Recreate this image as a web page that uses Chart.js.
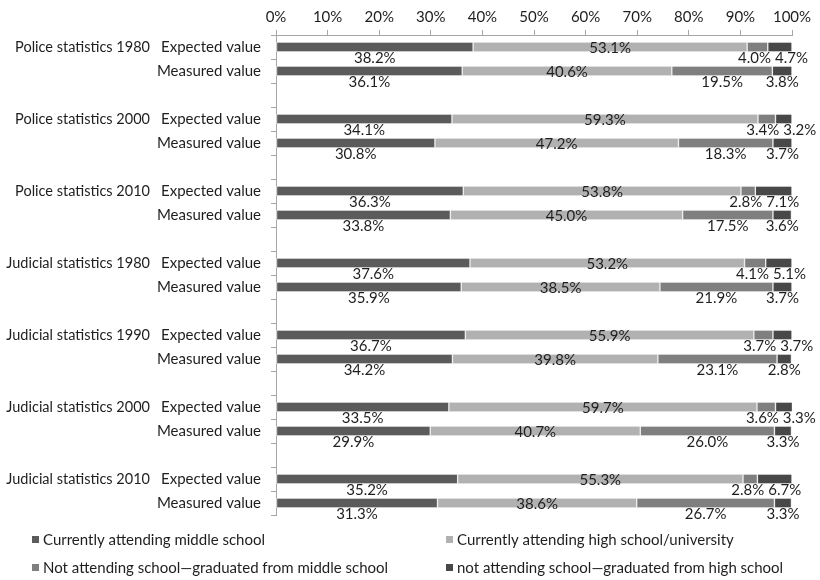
<!DOCTYPE html>
<html>
<head>
<meta charset="utf-8">
<script src="https://cdn.jsdelivr.net/npm/chart.js@4.4.1/dist/chart.umd.min.js"></script>
<style>
  html, body { margin: 0; padding: 0; background: #fff; }
  #wrap { width: 820px; height: 580px; }
</style>
</head>
<body>
<div id="wrap"><canvas id="myChart" width="820" height="580"></canvas></div>
<script>
// groups, each has an expected row and a measured row
const groups = [
  'Police statistics 1980', 'Police statistics 2000', 'Police statistics 2010',
  'Judicial statistics 1980', 'Judicial statistics 1990', 'Judicial statistics 2000',
  'Judicial statistics 2010'
];
const rowNames = ['Expected value', 'Measured value'];

// shares in %, order: expected, measured for each group
const middleSchool   = [38.2, 36.1, 34.1, 30.8, 36.3, 33.8, 37.6, 35.9, 36.7, 34.2, 33.5, 29.9, 35.2, 31.3];
const highSchoolUni  = [53.1, 40.6, 59.3, 47.2, 53.8, 45.0, 53.2, 38.5, 55.9, 39.8, 59.7, 40.7, 55.3, 38.6];
const gradMiddle     = [4.0, 19.5, 3.4, 18.3, 2.8, 17.5, 4.1, 21.9, 3.7, 23.1, 3.6, 26.0, 2.8, 26.7];
const gradHigh       = [4.7, 3.8, 3.2, 3.7, 7.1, 3.6, 5.1, 3.7, 3.7, 2.8, 3.3, 3.3, 6.7, 3.3];

const seriesNames = [
  'Currently attending middle school',
  'Currently attending high school/university',
  'Not attending school\u2014graduated from middle school',
  'not attending school\u2014graduated from high school'
];
const seriesColors = ['#5b5b5b', '#b1b1b1', '#7f7f7f', '#484848'];

const xTicks = [0, 10, 20, 30, 40, 50, 60, 70, 80, 90, 100];

const FONT = 'Lato, "Liberation Sans", sans-serif';
const SIZE = 15;
const TEXT = '#1e1e1e';

// blank row between groups
const labels = [];
groups.forEach((g, i) => {
  labels.push(rowNames[0], rowNames[1]);
  if (i < groups.length - 1) labels.push('');
});
const spread = arr => {
  const out = [];
  for (let i = 0; i < groups.length; i++) {
    out.push(arr[2 * i], arr[2 * i + 1]);
    if (i < groups.length - 1) out.push(null);
  }
  return out;
};

const allSeries = [middleSchool, highSchoolUni, gradMiddle, gradHigh];

const data = {
  labels: labels,
  datasets: allSeries.map((s, i) => ({
    label: seriesNames[i],
    data: spread(s),
    backgroundColor: seriesColors[i],
    borderColor: 'rgba(235,235,235,0.9)',
    borderWidth: 1,
    borderSkipped: false,
    barThickness: 10
  }))
};

// group names on the left, next to the "Expected value" row
const groupLabels = {
  id: 'groupLabels',
  afterDraw(chart) {
    const ctx = chart.ctx;
    const y = chart.scales.y;
    ctx.save();
    ctx.font = '14.5px ' + FONT;
    ctx.fillStyle = TEXT;
    ctx.textAlign = 'right';
    ctx.textBaseline = 'middle';
    groups.forEach((g, i) => {
      ctx.fillText(g, 150, y.getPixelForValue(i * 3));
    });
    ctx.restore();
  }
};

// value labels; the light series sits on the bar, the others just under it
const valueLabels = {
  id: 'valueLabels',
  afterDatasetsDraw(chart) {
    const ctx = chart.ctx;
    ctx.save();
    ctx.font = SIZE + 'px ' + FONT;
    ctx.fillStyle = TEXT;
    ctx.textAlign = 'center';
    ctx.textBaseline = 'middle';
    const rows = labels.length;
    for (let r = 0; r < rows; r++) {
      const items = [];
      chart.data.datasets.forEach((ds, di) => {
        const v = ds.data[r];
        if (v == null) return;
        const el = chart.getDatasetMeta(di).data[r];
        const txt = v.toFixed(1) + '%';
        items.push({
          di: di, txt: txt,
          x: (el.x + el.base) / 2,
          y: el.y + (di === 1 ? 1 : 11),
          w: ctx.measureText(txt).width
        });
      });
      // push the two small right-hand labels apart when they collide
      const a = items.find(o => o.di === 2), b = items.find(o => o.di === 3);
      if (a && b) {
        const gap = 4;
        const over = (a.x + a.w / 2 + gap) - (b.x - b.w / 2);
        if (over > 0) {
          a.x -= over * 0.2;
          b.x += over * 0.8;
        }
      }
      items.forEach(o => ctx.fillText(o.txt, o.x, o.y));
    }
    ctx.restore();
  }
};

// two-column legend under the plot
const gridLegend = {
  id: 'gridLegend',
  afterDraw(chart) {
    const ctx = chart.ctx;
    const cols = [32, 446];
    const rowsY = [540, 568];
    ctx.save();
    ctx.font = SIZE + 'px ' + FONT;
    ctx.textBaseline = 'middle';
    ctx.textAlign = 'left';
    seriesNames.forEach((name, i) => {
      const x = cols[i % 2], y = rowsY[Math.floor(i / 2)];
      ctx.fillStyle = seriesColors[i];
      ctx.fillRect(x, y - 4, 7, 7);
      ctx.fillStyle = TEXT;
      ctx.fillText(name, x + 11, y);
    });
    ctx.restore();
  }
};

const config = {
  type: 'bar',
  data: data,
  options: {
    indexAxis: 'y',
    responsive: false,
    animation: false,
    layout: { padding: { left: 0, right: 28, top: 0, bottom: 65 } },
    plugins: {
      legend: { display: false },
      tooltip: { enabled: false }
    },
    scales: {
      x: {
        position: 'top',
        stacked: true,
        min: 0,
        max: 100,
        afterBuildTicks: scale => { scale.ticks = xTicks.map(v => ({ value: v })); },
        afterFit: scale => { scale.height = 35; },
        ticks: {
          font: { family: FONT, size: SIZE },
          color: TEXT,
          padding: 4,
          maxRotation: 0,
          callback: v => v + '%'
        },
        grid: { drawOnChartArea: false, tickLength: 5, color: '#a6a6a6' },
        border: { color: '#a6a6a6' }
      },
      y: {
        stacked: true,
        afterFit: scale => { scale.width = 276; },
        ticks: {
          font: { family: FONT, size: SIZE },
          color: TEXT,
          padding: 10,
          autoSkip: false
        },
        grid: { drawOnChartArea: false, tickLength: 5, color: '#a6a6a6', offset: true },
        border: { color: '#a6a6a6' }
      }
    }
  },
  plugins: [groupLabels, valueLabels, gridLegend]
};

const myChart = new Chart(document.getElementById('myChart'), config);
</script>
</body>
</html>
